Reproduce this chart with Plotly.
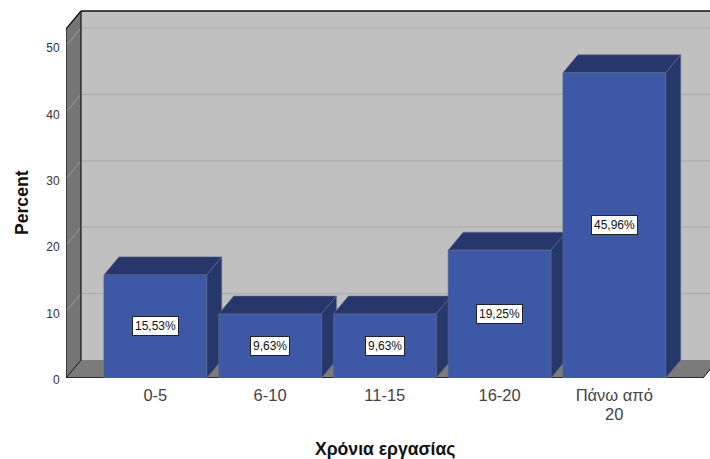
import plotly.graph_objects as go

categories = ["0-5", "6-10", "11-15", "16-20", "Πάνω από"]
last_category_second_line = "20"
percent = [15.53, 9.63, 9.63, 19.25, 45.96]
percent_labels = ["15,53%", "9,63%", "9,63%", "19,25%", "45,96%"]
y_ticks = [0, 10, 20, 30, 40, 50]

# Canvas and axis scales
WIDTH, HEIGHT = 710, 459
LEFT, BOTTOM = 66, 81
PX_PER_CAT = 114.75
PX_PER_PCT = 6.64
CENTER_0 = 155.3 - LEFT  # first category centre, px right of the plot edge
PLOT_W, PLOT_H = WIDTH - LEFT, HEIGHT - BOTTOM

x_range = [-CENTER_0 / PX_PER_CAT, (PLOT_W - CENTER_0) / PX_PER_CAT]
y_range = [0, PLOT_H / PX_PER_PCT]

# Oblique projection offset of the box depth, in axis units
DX = 15 / PX_PER_CAT
DY = 18 / PX_PER_PCT
BAR_W = 102.8 / PX_PER_CAT

# Extents of the enclosing box
X0 = x_range[0]
X1 = (703 - 155.3) / PX_PER_CAT
Y_TOP = 52.56

WALL = "#c0c0c0"
SIDE = "#757575"
FLOOR = "#7b7b7b"
GRID_WALL = "#adadad"
GRID_SIDE = "#9c9c9c"
BAR_FRONT = "#3d58a6"
BAR_TOP = "#27376b"
BAR_SIDE = "#26376c"
BAR_EDGE = "#5f6a86"
EDGE = "#111111"
X_END = x_range[1]


def poly(pts, fill):
    path = "M " + " L ".join(f"{x},{y}" for x, y in pts) + " Z"
    return dict(type="path", path=path, xref="x", yref="y", layer="below",
                fillcolor=fill, line=dict(width=0))


def seg(x0, y0, x1, y1, color, width=1.0):
    return dict(type="line", x0=x0, y0=y0, x1=x1, y1=y1, xref="x", yref="y",
                layer="below", line=dict(color=color, width=width))


def paper_x(px):
    return (px - LEFT) / PLOT_W


def paper_y(py):
    return (PLOT_H - py) / PLOT_H


# Back wall, side wall and floor of the box
shapes = [
    poly([(X0 + DX, DY), (X_END + 1, DY), (X_END + 1, Y_TOP + DY), (X0 + DX, Y_TOP + DY)], WALL),
    poly([(X0, 0), (X0 + DX, DY), (X0 + DX, Y_TOP + DY), (X0, Y_TOP)], SIDE),
    poly([(X0, 0), (X1, 0), (X1 + DX, DY), (X0 + DX, DY)], FLOOR),
]
for t in y_ticks[1:]:
    shapes.append(seg(X0 + DX, t + DY, X_END + 1, t + DY, GRID_WALL, 1.2))
    shapes.append(seg(X0, t, X0 + DX, t + DY, GRID_SIDE, 1.0))
shapes += [
    seg(X0, 0, X0, Y_TOP, EDGE, 1.2),
    seg(X0, Y_TOP, X0 + DX, Y_TOP + DY, EDGE, 1.2),
    seg(X0 + DX, Y_TOP + DY, X_END + 1, Y_TOP + DY, EDGE, 1.4),
    seg(X0 + DX, DY, X0 + DX, Y_TOP + DY, EDGE, 1.2),
    seg(X0, 0, X0 + DX, DY, EDGE, 1.0),
    seg(X0, 0, X1, 0, EDGE, 1.4),
    seg(X1, 0, X1 + DX, DY, EDGE, 1.0),
]

fig = go.Figure()

# Top and right faces of each bar
for i, v in enumerate(percent):
    left, right = i - BAR_W / 2, i + BAR_W / 2
    fig.add_trace(go.Scatter(
        x=[left, right, right + DX, left + DX, left],
        y=[v, v, v + DY, v + DY, v],
        mode="lines", fill="toself", fillcolor=BAR_TOP,
        line=dict(color=BAR_EDGE, width=0.6), hoverinfo="skip", showlegend=False))
    fig.add_trace(go.Scatter(
        x=[right, right + DX, right + DX, right, right],
        y=[0, DY, v + DY, v, 0],
        mode="lines", fill="toself", fillcolor=BAR_SIDE,
        line=dict(color=BAR_EDGE, width=0.6), hoverinfo="skip", showlegend=False))

# Front faces sit on an overlaid axis pair so they cover the neighbouring side faces
fig.add_trace(go.Bar(
    x=list(range(len(categories))), y=percent, width=BAR_W,
    marker=dict(color=BAR_FRONT, line=dict(color=BAR_EDGE, width=0.6)),
    xaxis="x2", yaxis="y2", showlegend=False))

annotations = [
    dict(x=i, y=v / 2, xref="x", yref="y", text=lab, showarrow=False,
         font=dict(family="Liberation Sans", size=12, color="#111111"),
         bgcolor="white", bordercolor="#222222", borderwidth=1, borderpad=2)
    for i, (v, lab) in enumerate(zip(percent, percent_labels))
]

# Second line of the last category label, set tighter than a tick label break allows
annotations.append(dict(
    x=len(categories) - 1, xref="x", y=paper_y(414), yref="paper",
    text=last_category_second_line, showarrow=False, yanchor="middle",
    font=dict(size=16.5, color="#444444")))

# Axis titles, placed off-centre from the plot area
title_font = dict(family="Liberation Sans", size=17.6, color="#111111")
annotations.append(dict(
    x=paper_x(385), y=paper_y(449), xref="paper", yref="paper", xanchor="center",
    text="<b>Χρόνια εργασίας</b>", showarrow=False, yanchor="middle", font=title_font))
annotations.append(dict(
    x=paper_x(22), y=paper_y(203), xref="paper", yref="paper", xanchor="center",
    text="<b>Percent</b>", showarrow=False, textangle=-90, yanchor="middle", font=title_font))

fig.update_layout(
    width=WIDTH, height=HEIGHT,
    margin=dict(l=LEFT, r=0, t=0, b=BOTTOM, autoexpand=False),
    paper_bgcolor="white", plot_bgcolor="white",
    font=dict(family="Liberation Sans", color="#333333"),
    shapes=shapes, annotations=annotations, barmode="overlay",
    xaxis=dict(range=x_range, tickmode="array", tickvals=list(range(len(categories))),
               ticktext=categories, showgrid=False, zeroline=False, showline=False,
               ticks="outside", ticklen=2, tickcolor="rgba(0,0,0,0)",
               tickfont=dict(size=16.5, color="#444444")),
    yaxis=dict(range=y_range, tickmode="array", tickvals=y_ticks,
               showgrid=False, zeroline=False, showline=False,
               ticks="outside", ticklen=3, tickcolor="rgba(0,0,0,0)",
               ticklabelshift=2,
               tickfont=dict(size=12, color="#333333")),
    xaxis2=dict(range=x_range, overlaying="x", visible=False),
    yaxis2=dict(range=y_range, overlaying="y", visible=False),
)

fig.write_html("out.html", config=dict(displayModeBar=False))
